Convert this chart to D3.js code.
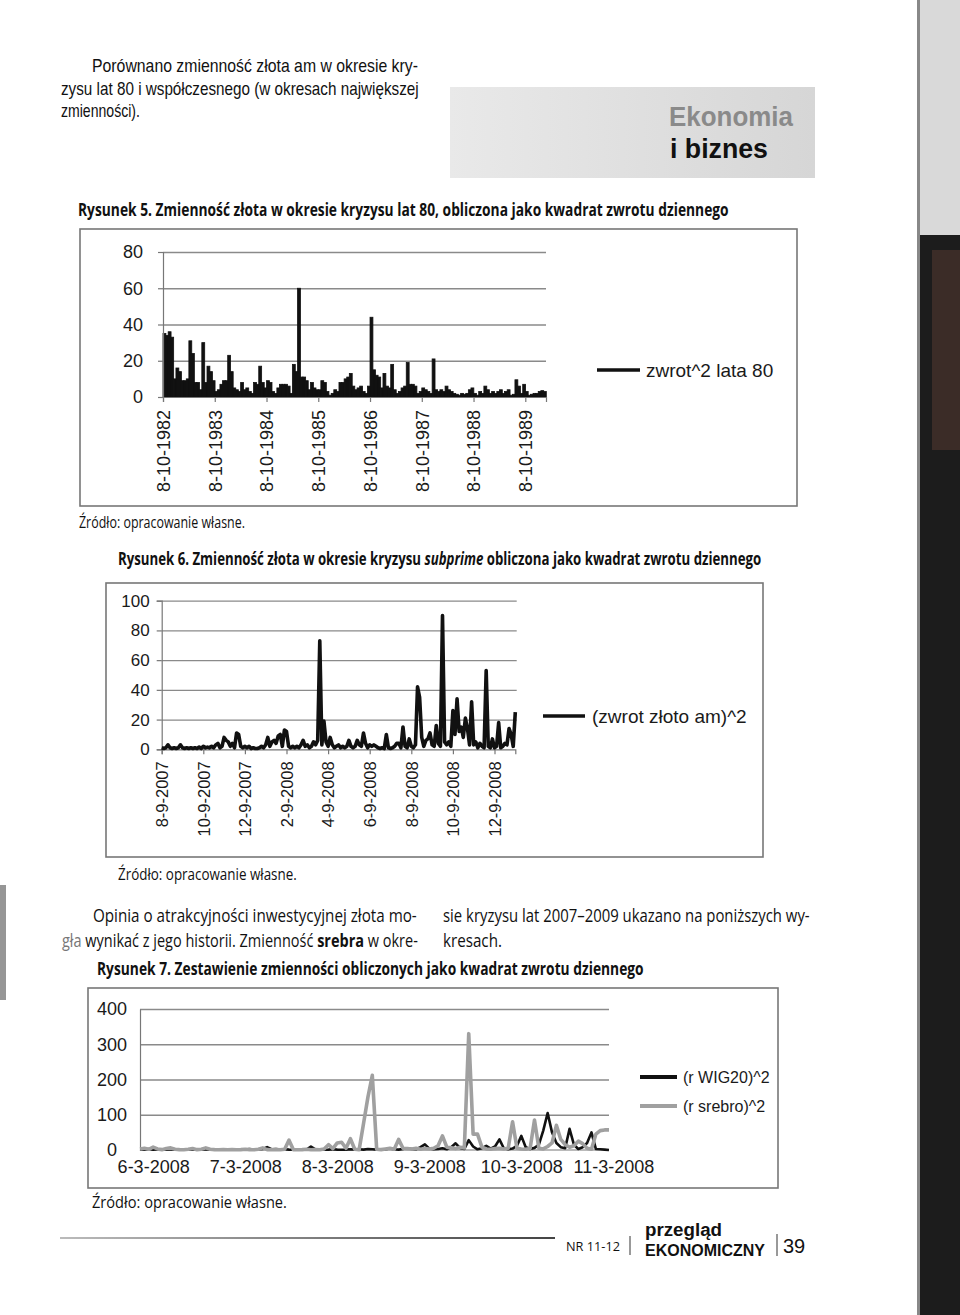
<!DOCTYPE html>
<html><head><meta charset="utf-8">
<script src="https://cdn.jsdelivr.net/npm/d3@7"></script>
<style>body{margin:0;background:#fff}svg{display:block}</style>
</head><body>
<svg id="page" width="960" height="1315"></svg>
<script>
// ---------- DATA ----------
const c1Labels = ["8-10-1982","8-10-1983","8-10-1984","8-10-1985","8-10-1986","8-10-1987","8-10-1988","8-10-1989"];
const c1TickIdx = [0,20,40,60,80,100,120,140];
const c1YTicks = [0,20,40,60,80];
const c1Values = [
35,34,36,33,10,16,14,9,9,10,
31,24,8,8,4,30,8,17,14,9,
3,4,7,9,9,23,14,5,4,3,
8,4,5,3,2,8,7,17,8,5,
9,8,3,2,5,7,7,7,6,2,
18,14,60,11,11,9,4,8,5,4,
4,9,8,3,1,2,4,3,8,8,
10,11,13,6,4,5,6,3,2,6,
44,15,12,11,5,13,6,5,18,4,
2,3,5,6,19,7,7,6,2,3,
5,4,3,2,21,4,3,4,3,6,
4,3,2,1.5,1,2,1.5,2,4,5,
2,1,3,2,6,4,2,3,2,3,
4,2,3,4,1,1.5,9.5,6,2,7,
3,1,1.5,2,2,3,3.5,3];
const c1Series = "zwrot^2 lata 80";

const c2Labels = ["8-9-2007","10-9-2007","12-9-2007","2-9-2008","4-9-2008","6-9-2008","8-9-2008","10-9-2008","12-9-2008"];
const c2TickIdx = [0,20,40,60,80,100,120,140,160];
const c2YTicks = [0,20,40,60,80,100];
const c2Values = [
1,0.5,1,3,1,0.5,1,0.5,1,3,
1,0.5,1,0.5,1,0.5,1,0.5,1.5,0.5,
2,1,1.5,1,2,1,3,4,1,2,
8,6,5,2,4,1,11,10,2,1,
2,1,2,0.5,1,0.5,0.5,1,2,1,
3,8,2,5,6,4,9,10,2,13,
12,2,1,2,1,2,1,3,6,2,
3,1,2,5,3,6,73,3,19,5,
2,8,3,1,2,3,1,2,1,2,
6,2,1,2,6,3,2,11,4,1,
3,2,3,2,1,0.5,1,0.5,10,1,
0.5,1,2,4,4,1,15,2,1,7,
2,1,3,42,35,8,2,6,7,11,
3,2,16,4,2,90,5,3,5,2,
26,10,34,12,15,8,21,14,3,32,
3,5,1,4,2,1,53,2,1,7,
1,2,18,1,2,4,3,14,10,2,
25];
const c2Series = "(zwrot złoto am)^2";

const c3Labels = ["6-3-2008","7-3-2008","8-3-2008","9-3-2008","10-3-2008","11-3-2008"];
const c3TickIdx = [3,24,45,66,87,108];
const c3YTicks = [0,100,200,300,400];
const c3Wig = [
2,1,3,1,2,0.5,1,2,1,0.5,
1,2,1,0.5,1,2,1,0.5,1,2,
1,0.5,1,2,1,3,1,2,3,8,
2,3,1,2,1,0.5,1,2,1,10,
2,1,0.5,1,2,1,0.5,1,2,1,
2,1,3,2,1,0.5,2,4,2,1,
3,5,3,2,8,16,4,2,3,5,
2,8,19,6,3,28,10,2,5,12,
4,10,30,5,2,4,12,40,8,3,
6,15,55,105,50,20,8,5,60,15,
3,8,20,50,3,2,1,0];
const c3Silver = [
3,5,2,8,3,1,4,6,2,1,
0.5,2,4,1,2,6,2,1,0.5,1,
0.5,1,0.5,1,2,1,0.5,2,6,1,
0.5,1,0.5,2,28,1,0.5,1,2,0.5,
1,0.5,3,15,4,20,22,5,32,2,
1,75,150,212,2,1,3,5,2,30,
5,4,3,5,2,4,3,5,12,40,
8,6,4,8,6,330,45,45,8,3,
2,4,5,3,5,80,5,3,2,4,
85,5,3,10,20,70,30,15,8,12,
25,18,5,2,45,55,57,57];
const c3SeriesNames = ["(r WIG20)^2","(r srebro)^2"];

// ---------- PAGE ----------
const svg = d3.select("#page");
const BODY = "'Open Sans','Noto Sans',sans-serif";
const ARIAL = "'Liberation Sans',Arial,sans-serif";

// scan edges
svg.append("rect").attr("x",0).attr("y",885).attr("width",6).attr("height",115).attr("fill","#6a6a6a").attr("opacity",0.7);
svg.append("rect").attr("x",917).attr("y",0).attr("width",3).attr("height",1315).attr("fill","#888");
svg.append("rect").attr("x",920).attr("y",0).attr("width",40).attr("height",235).attr("fill","#d9d9d9");
svg.append("rect").attr("x",920).attr("y",235).attr("width",40).attr("height",1080).attr("fill","#1c1c1c");
svg.append("rect").attr("x",932).attr("y",250).attr("width",28).attr("height",200).attr("fill","#3b2c27");

function fitText(parts, x, y, w, size, opts={}) {
  const t = svg.append("text").attr("font-size", size).attr("font-family", opts.family || BODY)
    .attr("fill", opts.fill || "#111").attr("font-weight", opts.bold ? "bold" : "normal");
  parts.forEach(p => {
    const s = typeof p === "string" ? {t:p} : p;
    const ts = t.append("tspan").text(s.t);
    if (s.b) ts.attr("font-weight","bold");
    if (s.i) ts.attr("font-style","italic");
    if (s.fill) ts.attr("fill", s.fill);
  });
  const L = t.node().getComputedTextLength();
  t.attr("transform", `translate(${x},${y}) scale(${w/L},1)`);
  return t;
}

// top text
fitText(["Porównano zmienność złota am w okresie kry-"], 92, 72, 326, 18, {family:ARIAL});
fitText(["zysu lat 80 i współczesnego (w okresach największej"], 61, 95, 358, 18, {family:ARIAL});
fitText(["zmienności)."], 61, 117, 79, 18, {family:ARIAL});

// header box
const grad = svg.append("defs").append("linearGradient").attr("id","hb");
grad.append("stop").attr("offset","0%").attr("stop-color","#e9e9e9");
grad.append("stop").attr("offset","100%").attr("stop-color","#d6d6d6");
svg.append("rect").attr("x",450).attr("y",87).attr("width",365).attr("height",91).attr("fill","url(#hb)");
fitText(["Ekonomia"], 669, 126, 124, 28, {bold:true, fill:"#8a8a8a", family:ARIAL});
fitText(["i biznes"], 670, 158, 98, 28, {bold:true, fill:"#111", family:ARIAL});

// captions and sources
fitText(["Rysunek 5. Zmienność złota w okresie kryzysu lat 80, obliczona jako kwadrat zwrotu dziennego"], 78, 216, 651, 17, {bold:true});
fitText(["Źródło: opracowanie własne."], 79, 528, 166, 16.5);
fitText(["Rysunek 6. Zmienność złota w okresie kryzysu ", {t:"subprime", i:true}, " obliczona jako kwadrat zwrotu dziennego"], 118, 565, 644, 17, {bold:true});
fitText(["Źródło: opracowanie własne."], 118, 880, 179, 16.5);
fitText(["Opinia o atrakcyjności inwestycyjnej złota mo-"], 93, 922, 324, 18.5);
fitText([{t:"gła", fill:"#777"}, " wynikać z jego historii. Zmienność ", {t:"srebra", b:true}, " w okre-"], 62, 947, 356, 18.5);
fitText(["sie kryzysu lat 2007–2009 ukazano na poniższych wy-"], 443, 922, 367, 18.5);
fitText(["kresach."], 443, 947, 59, 18.5);
fitText(["Rysunek 7. Zestawienie zmienności obliczonych jako kwadrat zwrotu dziennego"], 97, 975, 547, 17, {bold:true});
fitText(["Źródło: opracowanie własne."], 92, 1208, 195, 16.5);

// frames
[[80,229,717,277],[106,583,657,274],[88,988,690,200]].forEach(f=>{
  svg.append("rect").attr("x",f[0]).attr("y",f[1]).attr("width",f[2]).attr("height",f[3])
    .attr("fill","none").attr("stroke","#777").attr("stroke-width",1.6);
});

function styleAxis(g){
  g.selectAll(".domain").attr("stroke","#777").attr("stroke-width",1.2);
  g.selectAll(".tick line").attr("stroke","#777").attr("stroke-width",1.2);
  g.selectAll("text").attr("fill","#1a1a1a").attr("font-family",ARIAL);
}

// ---------- CHART 1 ----------
(function(){
  const x = d3.scaleLinear().domain([0, c1Values.length]).range([163, 546]);
  const y = d3.scaleLinear().domain([0, 80]).range([397, 252]);
  const g = svg.append("g");
  g.append("g").attr("transform","translate(163,0)")
    .call(d3.axisLeft(y).tickValues(c1YTicks.slice(1)).tickSize(-383).tickFormat(""))
    .call(a=>{a.select(".domain").remove(); a.selectAll("line").attr("stroke","#8a8a8a").attr("stroke-width",1.3);});
  g.selectAll("rect.bar").data(c1Values).join("rect").attr("class","bar")
    .attr("x",(d,i)=>x(i)).attr("width",(d,i)=>x(i+1)-x(i)+0.3)
    .attr("y",d=>y(d)).attr("height",d=>y(0)-y(d)).attr("fill","#111")
    .attr("stroke","#111").attr("stroke-width",0.8);
  const ya = g.append("g").attr("transform","translate(163,0)")
    .call(d3.axisLeft(y).tickValues(c1YTicks).tickSize(5).tickPadding(15));
  styleAxis(ya); ya.selectAll("text").attr("font-size",18);
  const xa = g.append("g").attr("transform","translate(0,397)")
    .call(d3.axisBottom(x).tickValues(c1TickIdx).tickSize(5).tickFormat((d,k)=>c1Labels[k]));
  styleAxis(xa);
  xa.selectAll("text").attr("font-size",18).attr("transform","rotate(-90)")
    .attr("text-anchor","end").attr("x",-13).attr("y",0).attr("dy","0.35em");
  g.append("line").attr("x1",597).attr("x2",640).attr("y1",370).attr("y2",370).attr("stroke","#111").attr("stroke-width",3.5);
  g.append("text").attr("x",646).attr("y",377).attr("font-family",ARIAL).attr("font-size",19).attr("fill","#1a1a1a").text(c1Series);
})();

// ---------- CHART 2 ----------
(function(){
  const x = d3.scaleLinear().domain([0, 170]).range([161.7, 515.3]);
  const y = d3.scaleLinear().domain([0, 100]).range([749.3, 600.7]);
  const g = svg.append("g");
  g.append("g").attr("transform","translate(161.7,0)")
    .call(d3.axisLeft(y).tickValues(c2YTicks.slice(1)).tickSize(-355).tickFormat(""))
    .call(a=>{a.select(".domain").remove(); a.selectAll("line").attr("stroke","#8a8a8a").attr("stroke-width",1.3);});
  const ya = g.append("g").attr("transform","translate(161.7,0)")
    .call(d3.axisLeft(y).tickValues(c2YTicks).tickSize(5).tickPadding(7));
  styleAxis(ya); ya.selectAll("text").attr("font-size",17);
  const xa = g.append("g").attr("transform","translate(0,749.3)")
    .call(d3.axisBottom(x).tickValues(c2TickIdx).tickSize(5).tickFormat((d,k)=>c2Labels[k]));
  styleAxis(xa);
  xa.selectAll("text").attr("font-size",16.5).attr("transform","rotate(-90)")
    .attr("text-anchor","end").attr("x",-12).attr("y",0).attr("dy","0.35em");
  g.append("path").datum(c2Values)
    .attr("d", d3.line().x((d,i)=>x(i)).y(d=>y(d)))
    .attr("fill","none").attr("stroke","#111").attr("stroke-width",3.6).attr("stroke-linejoin","round");
  g.append("line").attr("x1",543).attr("x2",585).attr("y1",716).attr("y2",716).attr("stroke","#111").attr("stroke-width",3.5);
  g.append("text").attr("x",592).attr("y",723).attr("font-family",ARIAL).attr("font-size",19).attr("fill","#1a1a1a").text(c2Series);
})();

// ---------- CHART 3 ----------
(function(){
  const x = d3.scaleLinear().domain([0, 107]).range([140, 609]);
  const y = d3.scaleLinear().domain([0, 400]).range([1150, 1009]);
  const g = svg.append("g");
  g.append("g").attr("transform","translate(140,0)")
    .call(d3.axisLeft(y).tickValues(c3YTicks.slice(1)).tickSize(-469).tickFormat(""))
    .call(a=>{a.select(".domain").remove(); a.selectAll("line").attr("stroke","#8a8a8a").attr("stroke-width",1.3);});
  const ya = g.append("g").attr("transform","translate(140,0)")
    .call(d3.axisLeft(y).tickValues(c3YTicks).tickSize(0).tickPadding(28));
  styleAxis(ya); ya.selectAll("text").attr("font-size",18).attr("text-anchor","middle");
  const xa = g.append("g").attr("transform","translate(0,1150)")
    .call(d3.axisBottom(x).tickValues(c3TickIdx).tickSize(0).tickPadding(10).tickFormat((d,k)=>c3Labels[k]));
  styleAxis(xa); xa.selectAll("text").attr("font-size",18);
  xa.select(".domain").attr("d","M140,0H609");
  const line = d3.line().x((d,i)=>x(i)).y(d=>y(d));
  g.append("path").datum(c3Wig).attr("d",line).attr("fill","none").attr("stroke","#111").attr("stroke-width",2.6).attr("stroke-linejoin","round");
  g.append("path").datum(c3Silver).attr("d",line).attr("fill","none").attr("stroke","#a0a0a0").attr("stroke-width",3.6).attr("stroke-linejoin","round");
  g.append("line").attr("x1",640).attr("x2",677).attr("y1",1077).attr("y2",1077).attr("stroke","#111").attr("stroke-width",4);
  g.append("text").attr("x",683).attr("y",1083).attr("font-family",ARIAL).attr("font-size",16).attr("fill","#1a1a1a").text(c3SeriesNames[0]);
  g.append("line").attr("x1",640).attr("x2",677).attr("y1",1106).attr("y2",1106).attr("stroke","#a0a0a0").attr("stroke-width",4);
  g.append("text").attr("x",683).attr("y",1112).attr("font-family",ARIAL).attr("font-size",16).attr("fill","#1a1a1a").text(c3SeriesNames[1]);
})();

// ---------- FOOTER ----------
const fg = svg.append("defs").append("linearGradient").attr("id","fl");
fg.append("stop").attr("offset","0%").attr("stop-color","#bbb");
fg.append("stop").attr("offset","100%").attr("stop-color","#444");
svg.append("rect").attr("x",60).attr("y",1237).attr("width",495).attr("height",2).attr("fill","url(#fl)");
fitText(["NR 11-12"], 566, 1251, 54, 13);
svg.append("line").attr("x1",630).attr("x2",630).attr("y1",1236).attr("y2",1255).attr("stroke","#777").attr("stroke-width",1.5);
fitText(["przegląd"], 645, 1236, 77, 19, {bold:true, family:ARIAL});
fitText(["EKONOMICZNY"], 645, 1256, 120, 16, {bold:true, family:ARIAL});
svg.append("line").attr("x1",777).attr("x2",777).attr("y1",1234).attr("y2",1256).attr("stroke","#777").attr("stroke-width",1.5);
svg.append("text").attr("x",783).attr("y",1253).attr("font-family",ARIAL).attr("font-size",20).attr("fill","#111").text("39");
</script>
</body></html>
